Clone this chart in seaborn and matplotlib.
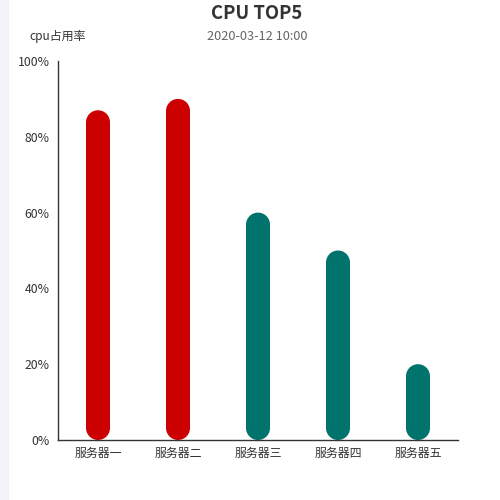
import numpy as np
import pandas as pd
import matplotlib
matplotlib.use("Agg")
import matplotlib.pyplot as plt
import seaborn as sns
from matplotlib.patches import Ellipse, Rectangle

servers = ["服务器一", "服务器二", "服务器三", "服务器四", "服务器五"]
cpu_usage = [87, 90, 60, 50, 20]
bar_colors = ["#cc0000", "#cc0000", "#00736c", "#00736c", "#00736c"]
y_ticks = [0, 20, 40, 60, 80, 100]

sns.set_style("white")
plt.rcParams['font.family'] = ['Noto Sans CJK SC', 'DejaVu Sans']

df = pd.DataFrame({"server": servers, "usage": cpu_usage})

fig = plt.figure(figsize=(5, 5), dpi=100)
# light strip on the left edge
fig.patches.append(Rectangle((0, 0), 0.016, 1, transform=fig.transFigure,
                             color="#f2f2f8", zorder=0))
ax = fig.add_axes([0.116, 0.12, 0.8, 0.758])

sns.barplot(data=df, x="server", y="usage", hue="server", palette=bar_colors,
            width=0.3, legend=False, ax=ax, saturation=1)
ax.set_xlim(-0.5, 4.5)
ax.set_ylim(0, 100)

# turn each bar into a capsule: shorter body + half-round caps
px_x = 400 / 5.0       # pixels per category unit
px_y = 379 / 100.0     # pixels per percent
for p in list(ax.patches):
    x, w, h = p.get_x(), p.get_width(), p.get_height()
    col = p.get_facecolor()
    ry = (w / 2) * px_x / px_y
    p.set_y(ry)
    p.set_height(h - 2 * ry)
    p.set_edgecolor("none")
    for cy in (ry, h - ry):
        ax.add_patch(Ellipse((x + w / 2, cy), w, 2 * ry, fc=col, ec="none"))

ax.set_yticks(y_ticks)
ax.set_yticklabels([f"{v}%" for v in y_ticks])
ax.set_xticks(np.arange(-0.5, 5, 1))
ax.set_xticklabels([""] * 6)
ax.set_xticks(range(5), minor=True)
ax.set_xticklabels(servers, minor=True)
ax.tick_params(axis="x", which="major", length=5, width=1, color="#333333", direction="out")
ax.tick_params(axis="x", which="minor", length=0, pad=5, labelsize=8.6, labelcolor="#333333")
ax.tick_params(axis="y", length=5, width=1, color="#333333", direction="out",
               labelsize=8.8, labelcolor="#333333", pad=1)
ax.set_xlabel("")
ax.set_ylabel("")
sns.despine(ax=ax)
for s in ("left", "bottom"):
    ax.spines[s].set_color("#333333")
    ax.spines[s].set_linewidth(1)
    ax.spines[s].set_zorder(5)

fig.text(0.514, 0.992, "CPU TOP5", ha="center", va="top", fontsize=13.3,
         fontweight="bold", color="#333333")
fig.text(0.514, 0.94, "2020-03-12 10:00", ha="center", va="top", fontsize=9.2,
         color="#666666")
fig.text(0.116, 0.94, "cpu占用率", ha="center", va="top", fontsize=8.6,
         color="#333333")

fig.savefig("out.png", dpi=100)
